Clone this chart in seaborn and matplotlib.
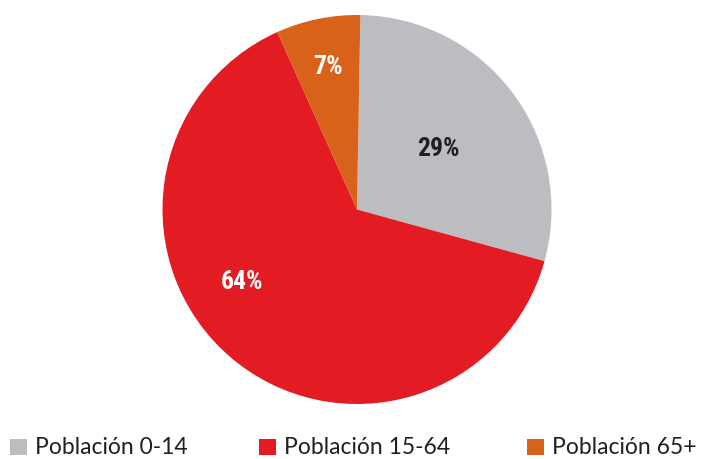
import matplotlib
matplotlib.use("Agg")
import matplotlib.pyplot as plt
from matplotlib import font_manager
import seaborn as sns
import numpy as np
from matplotlib.patches import Rectangle

sns.set_theme(style="white")
plt.rcParams['font.family'] = ['Lato', 'DejaVu Sans']

available = {f.name for f in font_manager.fontManager.ttflist}
narrow = next((f for f in ["Liberation Sans Narrow", "Roboto Condensed", "Open Sans Condensed",
                           "DejaVu Sans Condensed", "Lato"] if f in available), "Lato")

categories = ["Población 0-14", "Población 15-64", "Población 65+"]
values = [29, 64, 7]
labels = ["29%", "64%", "7%"]

colors = ["#BCBDC0", "#E31B23", "#D9621B"]
label_colors = ["#231F20", "white", "white"]
label_radius = [0.52, 0.70, 0.75]
label_angle_shift = [0, -17, 0]

fig = plt.figure(figsize=(7.05, 4.59), dpi=100)
W, H = 705, 459
cx, cy, r = 357, 209.5, 194.5
ax = fig.add_axes([(cx - r) / W, 1 - (cy + r) / H, 2 * r / W, 2 * r / H])
wedges, _ = ax.pie(values, colors=colors, startangle=89, counterclock=False,
                   wedgeprops=dict(linewidth=0))
ax.set_xlim(-1, 1)
ax.set_ylim(-1, 1)
ax.set_aspect("equal")

for w, lab, col, rad, sh in zip(wedges, labels, label_colors, label_radius, label_angle_shift):
    ang = np.deg2rad((w.theta1 + w.theta2) / 2 + sh)
    ax.text(rad * np.cos(ang), rad * np.sin(ang), lab, ha="center", va="center",
            color=col, fontsize=18.5 if narrow != "Lato" else 15.5, fontweight="bold",
            family=[narrow, "DejaVu Sans"])

leg_x = [10, 259, 527]
for x, cat, col in zip(leg_x, categories, colors):
    fig.patches.append(Rectangle((x / W, 1 - 455 / H), 17 / W, 16 / H,
                                 transform=fig.transFigure, color=col, lw=0))
    fig.text((x + 25) / W, 1 - 454.5 / H, cat, ha="left", va="baseline",
             fontsize=16.5, color="#231F20")

fig.savefig("out.png", dpi=100)
